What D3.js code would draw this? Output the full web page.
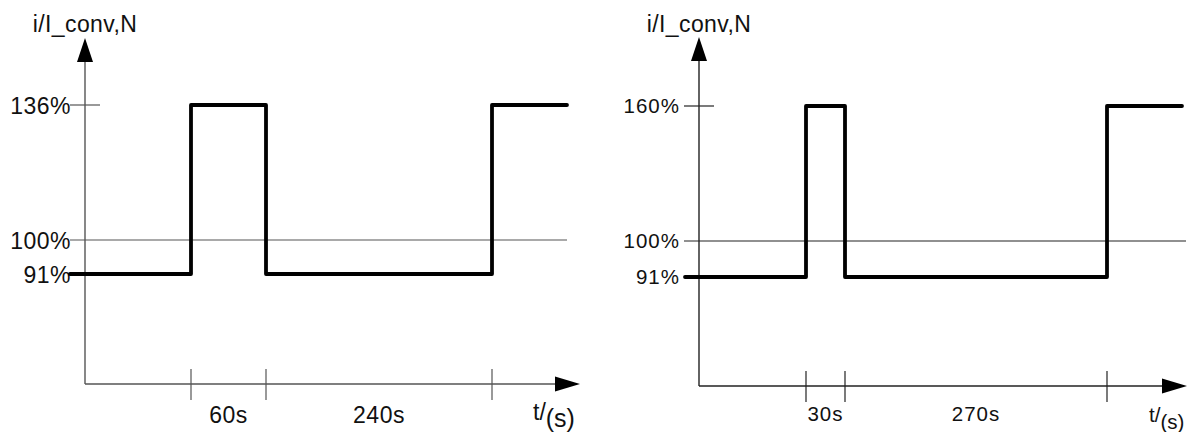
<!DOCTYPE html>
<html lang="en">
<head>
<meta charset="UTF-8">
<title>Overload cycles</title>
<script src="https://cdn.jsdelivr.net/npm/d3@7"></script>
<style>
  body { margin: 0; background: #fff; }
  svg text { font-family: "Liberation Sans", Arial, sans-serif; fill: #111; }
  .step { fill: none; stroke: #000; stroke-width: 3.8px; stroke-linejoin: round; stroke-linecap: round; }
</style>
</head>
<body>
<script>
// ---- data ----
var yTitle = "i/I_conv,N";
var xTitle = ["t/", "(s)"];

// left panel: 60 s at 136 %, 240 s at 91 %
var leftSeries = [[-45, 91], [0, 136], [60, 91], [300, 136], [345, 136]];
var leftEdges = [0, 60, 300];
var leftYTicks = [136, 100, 91];
var leftYLabels = ["136%", "100%", "91%"];
var leftSpans = ["60s", "240s"];

// right panel: 30 s at 160 %, 270 s at 91 %
var rightSeries = [[-45, 91], [0, 160], [30, 91], [300, 160], [345, 160]];
var rightEdges = [0, 30, 300];
var rightYTicks = [160, 100, 91];
var rightYLabels = ["160%", "100%", "91%"];
var rightSpans = ["30s", "270s"];

var svg = d3.select("body").append("svg")
  .attr("width", 1188)
  .attr("height", 432);

// sketch is not to scale, so both scales are piecewise linear
function drawPanel(p) {
  var x = d3.scaleLinear().domain(p.xDomain).range(p.xRange);
  var y = d3.scaleLinear().domain(p.yDomain).range(p.yRange);
  var g = svg.append("g");

  // axes with arrows
  g.append("line")
    .attr("x1", p.ox).attr("x2", p.ox)
    .attr("y1", p.axisY).attr("y2", p.yTip + 20)
    .attr("stroke", p.axisColor).attr("stroke-width", 1.4);
  g.append("path")
    .attr("d", "M" + p.ox + "," + p.yTip + "l-8,24h16z")
    .attr("fill", "#000");
  g.append("line")
    .attr("x1", p.ox).attr("x2", p.xTip - 20)
    .attr("y1", p.axisY).attr("y2", p.axisY)
    .attr("stroke", p.axisColor).attr("stroke-width", 1.4);
  g.append("path")
    .attr("d", "M" + p.xTip + "," + p.axisY + "l-25,-7.5v15z")
    .attr("fill", "#000");

  // 100 % reference line and the peak tick
  g.append("line")
    .attr("x1", p.ox - 15).attr("x2", p.refEnd)
    .attr("y1", y(100)).attr("y2", y(100))
    .attr("stroke", p.axisColor).attr("stroke-width", 1.2);
  g.append("line")
    .attr("x1", p.ox - 15).attr("x2", p.ox + 15)
    .attr("y1", y(p.yTicks[0])).attr("y2", y(p.yTicks[0]))
    .attr("stroke", p.axisColor).attr("stroke-width", 1.2);

  // y labels
  g.selectAll(".ylab").data(p.yTicks).enter().append("text")
    .attr("x", p.ox - p.labelGap)
    .attr("y", function(d) { return y(d) + p.labelDy; })
    .attr("text-anchor", "end")
    .attr("font-size", p.fs)
    .attr("letter-spacing", p.ls)
    .text(function(d, i) { return p.yLabels[i]; });

  // time ticks
  g.selectAll(".xtick").data(p.edges).enter().append("line")
    .attr("x1", function(d) { return x(d); })
    .attr("x2", function(d) { return x(d); })
    .attr("y1", p.axisY - 15).attr("y2", p.axisY + 16)
    .attr("stroke", p.axisColor).attr("stroke-width", 1.2);

  // span labels between ticks
  g.selectAll(".span").data(p.spans).enter().append("text")
    .attr("x", function(d, i) { return (x(p.edges[i]) + x(p.edges[i + 1])) / 2; })
    .attr("y", p.axisY + p.spanDy)
    .attr("text-anchor", "middle")
    .attr("font-size", p.fs)
    .attr("letter-spacing", p.ls)
    .text(function(d) { return d; });

  // axis titles
  g.append("text")
    .attr("x", p.ox).attr("y", 32)
    .attr("text-anchor", "middle")
    .attr("font-size", 23)
    .attr("letter-spacing", 0.4)
    .text(yTitle);
  var t = g.append("text")
    .attr("x", p.tX).attr("y", p.axisY + 36)
    .attr("font-size", p.fs);
  t.append("tspan").text(xTitle[0]);
  t.append("tspan").attr("dy", 7).attr("font-size", p.sFs).text(xTitle[1]);

  // load profile
  var line = d3.line()
    .x(function(d) { return x(d[0]); })
    .y(function(d) { return y(d[1]); })
    .curve(d3.curveStepAfter);
  g.append("path")
    .datum(p.series)
    .attr("class", "step")
    .attr("d", line);
}

drawPanel({
  series: leftSeries, edges: leftEdges, yTicks: leftYTicks, yLabels: leftYLabels, spans: leftSpans,
  xDomain: [-45, 0, 60, 300, 345], xRange: [70, 191, 266, 492, 567],
  yDomain: [91, 100, 136], yRange: [274, 240, 105],
  ox: 85, axisY: 384, yTip: 38, xTip: 580, refEnd: 567,
  axisColor: "#555", fs: 23, sFs: 25, ls: 0.5, labelDy: 9, labelGap: 14, spanDy: 39, tX: 533
});

drawPanel({
  series: rightSeries, edges: rightEdges, yTicks: rightYTicks, yLabels: rightYLabels, spans: rightSpans,
  xDomain: [-45, 0, 30, 300, 345], xRange: [685, 806, 845, 1107, 1182],
  yDomain: [91, 100, 160], yRange: [277, 241, 106],
  ox: 699, axisY: 386, yTip: 37, xTip: 1187, refEnd: 1186,
  axisColor: "#222", fs: 20.5, sFs: 20.5, ls: 1, labelDy: 7, labelGap: 19, spanDy: 35, tX: 1149
});
</script>
</body>
</html>
